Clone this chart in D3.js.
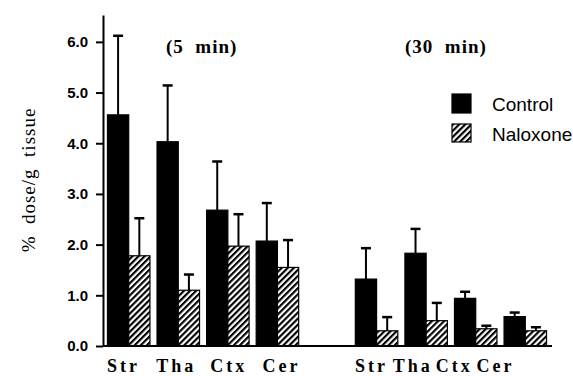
<!DOCTYPE html>
<html>
  <head>
    <meta charset="utf-8">
    <title>% dose/g tissue</title>
    <style>
      body { margin: 0; background: #fff; }
      svg { display: block; }
      .tick text { font-family: "Liberation Sans", Arial, sans-serif; font-weight: bold; font-size: 15px; fill: #000; }
      .serif { font-family: "Liberation Serif", "Times New Roman", serif; fill: #000; }
      .sans { font-family: "Liberation Sans", Arial, sans-serif; fill: #000; }
    </style>
    <script src="https://cdnjs.cloudflare.com/ajax/libs/d3/7.8.5/d3.min.js"></script>
  </head>
  <body>
    <div id="chart"></div>
    <script>
      // data (mean and upper error)
      var timepoints = ["5 min", "30 min"];
      var regions = ["Str", "Tha", "Ctx", "Cer"];
      var series = ["Control", "Naloxone"];
      var control5 = [4.56, 4.03, 2.68, 2.07];
      var controlErr5 = [1.56, 1.11, 0.96, 0.75];
      var naloxone5 = [1.78, 1.10, 1.97, 1.55];
      var naloxoneErr5 = [0.74, 0.31, 0.63, 0.54];
      var control30 = [1.32, 1.83, 0.94, 0.58];
      var controlErr30 = [0.61, 0.48, 0.13, 0.08];
      var naloxone30 = [0.30, 0.50, 0.34, 0.30];
      var naloxoneErr30 = [0.27, 0.35, 0.06, 0.07];
      var yTicks = [0, 1, 2, 3, 4, 5, 6];

      var W = 573, H = 376;
      var svg = d3.select('#chart').append('svg').attr('width', W).attr('height', H);

      var defs = svg.append('defs');
      var pat = defs.append('pattern').attr('id', 'hatch')
        .attr('patternUnits', 'userSpaceOnUse').attr('width', 4.3).attr('height', 4.3)
        .attr('patternTransform', 'rotate(45)');
      pat.append('rect').attr('width', 4.3).attr('height', 4.3).attr('fill', '#fff');
      pat.append('line').attr('x1', 1).attr('x2', 1).attr('y1', 0).attr('y2', 4.3)
        .attr('stroke', '#000').attr('stroke-width', 2.3);

      // rows: one per region per timepoint
      var rows = [];
      var vals = { "5 min": [control5, controlErr5, naloxone5, naloxoneErr5],
                   "30 min": [control30, controlErr30, naloxone30, naloxoneErr30] };
      timepoints.forEach(function(t) {
        regions.forEach(function(r, i) {
          var v = vals[t];
          rows.push({ key: t + '|' + r, time: t, region: r,
            values: [ { s: "Control", v: v[0][i], e: v[1][i] },
                      { s: "Naloxone", v: v[2][i], e: v[3][i] } ] });
        });
      });

      var slots = regions.map(function(r) { return '5 min|' + r; })
        .concat(['gap'])
        .concat(regions.map(function(r) { return '30 min|' + r; }));

      var x = d3.scaleBand().domain(slots).range([103, 551]).paddingInner(0.143).paddingOuter(0.09);
      var xs = d3.scaleBand().domain(series).range([0, x.bandwidth()]);
      var y = d3.scaleLinear().domain([0, 6.53]).range([346, 15]);

      // y axis
      var yAxis = svg.append('g').attr('transform', 'translate(103,0)')
        .call(d3.axisLeft(y).tickValues(yTicks).tickFormat(d3.format('.1f')).tickSize(7).tickSizeOuter(0).tickPadding(8));
      yAxis.select('.domain').attr('stroke-width', 2);
      yAxis.selectAll('.tick line').attr('stroke-width', 2);

      // bars
      var g = svg.selectAll('g.grp').data(rows).enter().append('g')
        .attr('transform', function(d) { return 'translate(' + x(d.key) + ',0)'; });

      g.selectAll('rect').data(function(d) { return d.values; }).enter().append('rect')
        .attr('x', function(d) { return xs(d.s); })
        .attr('y', function(d) { return y(d.v); })
        .attr('width', xs.bandwidth())
        .attr('height', function(d) { return y(0) - y(d.v); })
        .attr('fill', function(d) { return d.s === 'Control' ? '#000' : 'url(#hatch)'; })
        .attr('stroke', '#000').attr('stroke-width', 1.2);

      // error bars (upper only)
      var eb = g.selectAll('g.err').data(function(d) { return d.values; }).enter().append('g');
      eb.append('line')
        .attr('x1', function(d) { return xs(d.s) + xs.bandwidth() / 2; })
        .attr('x2', function(d) { return xs(d.s) + xs.bandwidth() / 2; })
        .attr('y1', function(d) { return y(d.v); })
        .attr('y2', function(d) { return y(d.v + d.e); })
        .attr('stroke', '#000').attr('stroke-width', 2);
      eb.append('line')
        .attr('x1', function(d) { return xs(d.s) + xs.bandwidth() / 2 - 5; })
        .attr('x2', function(d) { return xs(d.s) + xs.bandwidth() / 2 + 5; })
        .attr('y1', function(d) { return y(d.v + d.e); })
        .attr('y2', function(d) { return y(d.v + d.e); })
        .attr('stroke', '#000').attr('stroke-width', 2.5);

      // baseline
      svg.append('line').attr('x1', 103).attr('x2', x.range()[1] + 1)
        .attr('y1', y(0)).attr('y2', y(0)).attr('stroke', '#000').attr('stroke-width', 2);

      // region labels, packed per panel
      var labelX = {
        "5 min": d3.scalePoint().domain(regions).range([122, 280]),
        "30 min": d3.scalePoint().domain(regions).range([370, 494])
      };
      rows.forEach(function(d) {
        svg.append('text').attr('class', 'serif')
          .attr('x', labelX[d.time](d.region) + 1.5).attr('y', 372)
          .attr('text-anchor', 'middle')
          .style('font-size', '18px').style('font-weight', 'bold').style('letter-spacing', '3px')
          .text(d.region);
      });

      // panel titles
      var titleX = { "5 min": 166, "30 min": 405 };
      timepoints.forEach(function(t) {
        var parts = t.split(' ');
        svg.append('text').attr('class', 'serif')
          .attr('x', titleX[t]).attr('y', 53)
          .style('font-size', '19px').style('font-weight', 'bold').style('letter-spacing', '1px')
          .style('white-space', 'pre')
          .text('(' + parts[0] + '  ' + parts[1] + ')');
      });

      // y label
      svg.append('text').attr('class', 'serif')
        .attr('transform', 'translate(35,180) rotate(-90)')
        .attr('text-anchor', 'middle')
        .style('font-size', '19px').style('letter-spacing', '1px').style('white-space', 'pre')
        .text('%  dose/g  tissue');

      // legend
      var leg = svg.append('g').attr('transform', 'translate(452,94)');
      var li = leg.selectAll('g').data(series).enter().append('g')
        .attr('transform', function(d, i) { return 'translate(0,' + (i * 30) + ')'; });
      li.append('rect').attr('width', 19).attr('height', function(d, i) { return i ? 18 : 19; })
        .attr('fill', function(d) { return d === 'Control' ? '#000' : 'url(#hatch)'; })
        .attr('stroke', '#000').attr('stroke-width', 1.2);
      li.append('text').attr('class', 'sans').attr('x', 40).attr('y', 17)
        .style('font-size', '19px').text(function(d) { return d; });
    </script>
  </body>
</html>
